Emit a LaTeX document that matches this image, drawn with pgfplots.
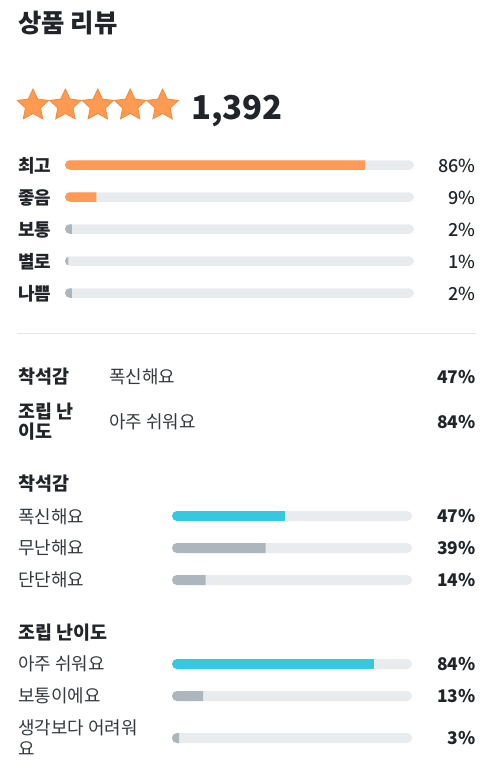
\documentclass[border=0pt]{standalone}
\usepackage{fontspec}
\setmainfont{Noto Sans CJK KR}
\newfontfamily\med{Noto Sans CJK KR Medium}
\usepackage{pgfplots}
\pgfplotsset{compat=1.18}
\definecolor{txt}{HTML}{212529}
\definecolor{txt2}{HTML}{343A40}
\definecolor{track}{HTML}{E9ECEF}
\definecolor{org}{HTML}{FF9A57}
\definecolor{gry}{HTML}{ADB5BD}
\definecolor{cyn}{HTML}{36C8E1}
\definecolor{sfill}{HTML}{FF9A52}
\definecolor{sline}{HTML}{F28A3C}
\definecolor{divc}{HTML}{E3E6E9}
\newcommand\fs[1]{\fontsize{#1}{#1}\selectfont}
\pgfdeclareplotmark{fstar}{%
  \pgfsetcornersarced{\pgfpoint{1.3bp}{1.3bp}}%
  \pgfpathmoveto{\pgfpoint{0bp}{16.5bp}}%
  \pgfpathlineto{\pgfpoint{-4.70bp}{6.47bp}}%
  \pgfpathlineto{\pgfpoint{-15.69bp}{5.10bp}}%
  \pgfpathlineto{\pgfpoint{-7.61bp}{-2.47bp}}%
  \pgfpathlineto{\pgfpoint{-9.70bp}{-13.35bp}}%
  \pgfpathlineto{\pgfpoint{0bp}{-8bp}}%
  \pgfpathlineto{\pgfpoint{9.70bp}{-13.35bp}}%
  \pgfpathlineto{\pgfpoint{7.61bp}{-2.47bp}}%
  \pgfpathlineto{\pgfpoint{15.69bp}{5.10bp}}%
  \pgfpathlineto{\pgfpoint{4.70bp}{6.47bp}}%
  \pgfpathclose
  \pgfusepathqfillstroke}
\pgfplotsset{
  trk/.style={xbar, bar shift=0pt, bar width=#1, fill=track, draw=none, rounded corners=4.75bp},
  val/.style={xbar, bar shift=0pt, bar width=#1, draw=none},
  panel/.style={anchor=north west, scale only axis, xmin=0, xmax=100, y dir=reverse, hide axis, clip=false},
}
\begin{document}
\begin{tikzpicture}[every node/.style={inner sep=0pt, text=txt}]
\fill[white] (0,0) rectangle (494bp,-775bp);
% title
\node[anchor=west] at (18bp,-23bp) {\fs{25.5}\bfseries 상품 리뷰};
% stars
\begin{axis}[at={(33bp,-105.5bp)}, anchor=west, scale only axis, width=129.6bp, height=10bp,
  xmin=0, xmax=4, ymin=-1, ymax=1, hide axis, clip=false]
\addplot[only marks, mark=fstar, mark options={fill=sfill, draw=sline, line width=0.8bp}]
  coordinates {(0,0) (1,0) (2,0) (3,0) (4,0)};
\end{axis}
\node[anchor=base west] at (191bp,-119bp) {\fs{33}\bfseries 1,392};
% rating bars
\begin{axis}[panel, at={(65bp,-150bp)}, width=349bp, height=160bp, ymin=150, ymax=310]
\addplot[trk=9.5bp] coordinates {(100,165) (100,197) (100,229) (100,261) (100,293)};
\clip[rounded corners=4.75bp]
  (axis cs:0,160.25) rectangle (axis cs:100,169.75)
  (axis cs:0,192.25) rectangle (axis cs:100,201.75)
  (axis cs:0,224.25) rectangle (axis cs:100,233.75)
  (axis cs:0,256.25) rectangle (axis cs:100,265.75)
  (axis cs:0,288.25) rectangle (axis cs:100,297.75);
\addplot[val=9.5bp, fill=org] coordinates {(86,165) (9,197)};
\addplot[val=9.5bp, fill=gry] coordinates {(2,229) (1,261) (2,293)};
\end{axis}
\foreach \l/\p/\y in {최고/86/165.5, 좋음/9/197.5, 보통/2/229.5, 별로/1/261.5, 나쁨/2/293.5}{
  \node[anchor=west] at (18bp,-\y bp) {\fs{18}\bfseries \l};
  \node[anchor=east] at (476bp,-\y bp) {\fs{18}\med \p\%};
}
% divider
\draw[divc, line width=1bp] (17bp,-333bp) -- (476bp,-333bp);
% summary
\node[anchor=west] at (18bp,-377bp) {\fs{18.5}\bfseries 착석감};
\node[anchor=west, text=txt2] at (109bp,-377bp) {\fs{18}폭신해요};
\node[anchor=east] at (476bp,-377bp) {\fs{17.5}\bfseries 47\%};
\node[anchor=west] at (18bp,-411.5bp) {\fs{18.5}\bfseries 조립 난};
\node[anchor=west] at (18bp,-432bp) {\fs{18.5}\bfseries 이도};
\node[anchor=west, text=txt2] at (109bp,-422bp) {\fs{18}아주 쉬워요};
\node[anchor=east] at (476bp,-422bp) {\fs{17.5}\bfseries 84\%};
% group 1
\node[anchor=west] at (18bp,-484bp) {\fs{18.5}\bfseries 착석감};
\begin{axis}[panel, at={(172bp,-500bp)}, width=240bp, height=100bp, ymin=500, ymax=600]
\addplot[trk=10bp] coordinates {(100,516) (100,548) (100,580)};
\clip[rounded corners=5bp]
  (axis cs:0,511) rectangle (axis cs:100,521)
  (axis cs:0,543) rectangle (axis cs:100,553)
  (axis cs:0,575) rectangle (axis cs:100,585);
\addplot[val=10bp, fill=cyn] coordinates {(47,516)};
\addplot[val=10bp, fill=gry] coordinates {(39,548) (14,580)};
\end{axis}
\foreach \l/\p/\y in {폭신해요/47/516.5, 무난해요/39/548, 단단해요/14/580}{
  \node[anchor=west, text=txt2] at (18bp,-\y bp) {\fs{18}\l};
  \node[anchor=east] at (476bp,-\y bp) {\fs{17.5}\bfseries \p\%};
}
% group 2
\node[anchor=west] at (18bp,-633bp) {\fs{18.5}\bfseries 조립 난이도};
\begin{axis}[panel, at={(172bp,-650bp)}, width=240bp, height=100bp, ymin=650, ymax=750]
\addplot[trk=10bp] coordinates {(100,664) (100,696) (100,738)};
\clip[rounded corners=5bp]
  (axis cs:0,659) rectangle (axis cs:100,669)
  (axis cs:0,691) rectangle (axis cs:100,701)
  (axis cs:0,733) rectangle (axis cs:100,743);
\addplot[val=10bp, fill=cyn] coordinates {(84,664)};
\addplot[val=10bp, fill=gry] coordinates {(13,696) (3,738)};
\end{axis}
\node[anchor=west, text=txt2] at (18bp,-664bp) {\fs{18}아주 쉬워요};
\node[anchor=east] at (476bp,-664bp) {\fs{17.5}\bfseries 84\%};
\node[anchor=west, text=txt2] at (18bp,-696bp) {\fs{18}보통이에요};
\node[anchor=east] at (476bp,-696bp) {\fs{17.5}\bfseries 13\%};
\node[anchor=west, text=txt2] at (18bp,-728bp) {\fs{18}생각보다 어려워};
\node[anchor=west, text=txt2] at (18bp,-749bp) {\fs{18}요};
\node[anchor=east] at (476bp,-738bp) {\fs{17.5}\bfseries 3\%};
\pgfresetboundingbox
\path[use as bounding box] (0,0) rectangle (494bp,-775bp);
\end{tikzpicture}
\end{document}
